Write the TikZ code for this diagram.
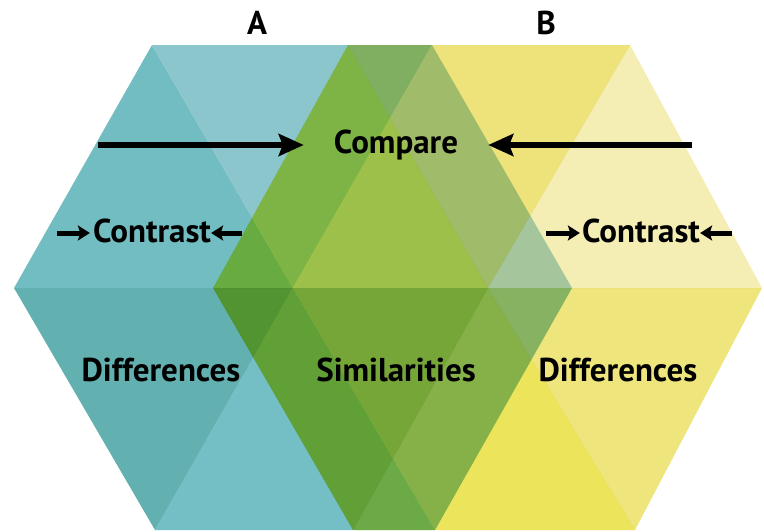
\documentclass[tikz,border=0pt]{standalone}
\usepackage{fontspec}
\setmainfont{PT Sans}
\usetikzlibrary{arrows.meta}
\definecolor{aTL}{RGB}{114,189,194}
\definecolor{aT}{RGB}{139,198,205}
\definecolor{aTR}{RGB}{172,212,222}
\definecolor{aBR}{RGB}{144,198,200}
\definecolor{aB}{RGB}{116,190,197}
\definecolor{aBL}{RGB}{99,176,176}
\definecolor{bTL}{RGB}{232,232,86}
\definecolor{bT}{RGB}{238,226,122}
\definecolor{bTR}{RGB}{245,238,180}
\definecolor{bBR}{RGB}{238,230,124}
\definecolor{bB}{RGB}{236,229,92}
\definecolor{bBL}{RGB}{212,215,72}
\begin{document}
\begin{tikzpicture}[x=1pt,y=-1pt,
  lbl/.style={font=\bfseries\fontsize{33}{33}\selectfont, inner sep=0pt, anchor=base},
  bigarrow/.style={line width=6pt, -{Stealth[length=25pt,width=22pt,inset=4pt]}},
  smallarrow/.style={line width=5pt, -{Stealth[length=12pt,width=15pt,inset=2.5pt]}}]
\path[use as bounding box] (0,0) rectangle (764,531);
\fill[white] (0,0) rectangle (764,531);
% hexagon A
\coordinate (A1) at (14,288);
\coordinate (A2) at (152,45);
\coordinate (A3) at (432,45);
\coordinate (A4) at (572,288);
\coordinate (A5) at (435,530);
\coordinate (A6) at (155,530);
\coordinate (AC) at (293,288);
% hexagon B
\coordinate (B1) at (213,288);
\coordinate (B2) at (348,45);
\coordinate (B3) at (630,45);
\coordinate (B4) at (762,288);
\coordinate (B5) at (635,530);
\coordinate (B6) at (353,530);
\coordinate (BC) at (488,288);
\fill[aTL] (A1) -- (A2) -- (AC) -- cycle;
\fill[aT]  (A2) -- (A3) -- (AC) -- cycle;
\fill[aTR] (A3) -- (A4) -- (AC) -- cycle;
\fill[aBR] (A4) -- (A5) -- (AC) -- cycle;
\fill[aB]  (A5) -- (A6) -- (AC) -- cycle;
\fill[aBL] (A6) -- (A1) -- (AC) -- cycle;
\begin{scope}[blend mode=multiply]
\fill[bTL] (B1) -- (B2) -- (BC) -- cycle;
\fill[bT]  (B2) -- (B3) -- (BC) -- cycle;
\fill[bTR] (B3) -- (B4) -- (BC) -- cycle;
\fill[bBR] (B4) -- (B5) -- (BC) -- cycle;
\fill[bB]  (B5) -- (B6) -- (BC) -- cycle;
\fill[bBL] (B6) -- (B1) -- (BC) -- cycle;
\end{scope}
% labels
\node[lbl] (la) at (257,34) {A};
\node[lbl] (lb) at (546,34) {B};
\node[lbl] (cmp) at (396,153) {Compare};
\node[lbl] (cl) at (152,242) {Contrast};
\node[lbl] (cr) at (641,242) {Contrast};
\node[lbl] (dl) at (161,381) {Differences};
\node[lbl] (sim) at (396,381) {Similarities};
\node[lbl] (dr) at (618,381) {Differences};
% arrows
\coordinate (cmpL) at (98,145);
\coordinate (cmpR) at (692,145);
\draw[bigarrow, shorten >=30pt] (cmpL) -- (cmpL -| cmp.west);
\draw[bigarrow, shorten >=30pt] (cmpR) -- (cmpR -| cmp.east);
\coordinate (clL) at (57,233);
\coordinate (clR) at (242,233);
\coordinate (crL) at (546,233);
\coordinate (crR) at (732,233);
\draw[smallarrow, shorten >=3pt] (clL) -- (clL -| cl.west);
\draw[smallarrow, shorten >=0pt] (clR) -- (clR -| cl.east);
\draw[smallarrow, shorten >=2pt] (crL) -- (crL -| cr.west);
\draw[smallarrow, shorten >=0pt] (crR) -- (crR -| cr.east);
\end{tikzpicture}
\end{document}
